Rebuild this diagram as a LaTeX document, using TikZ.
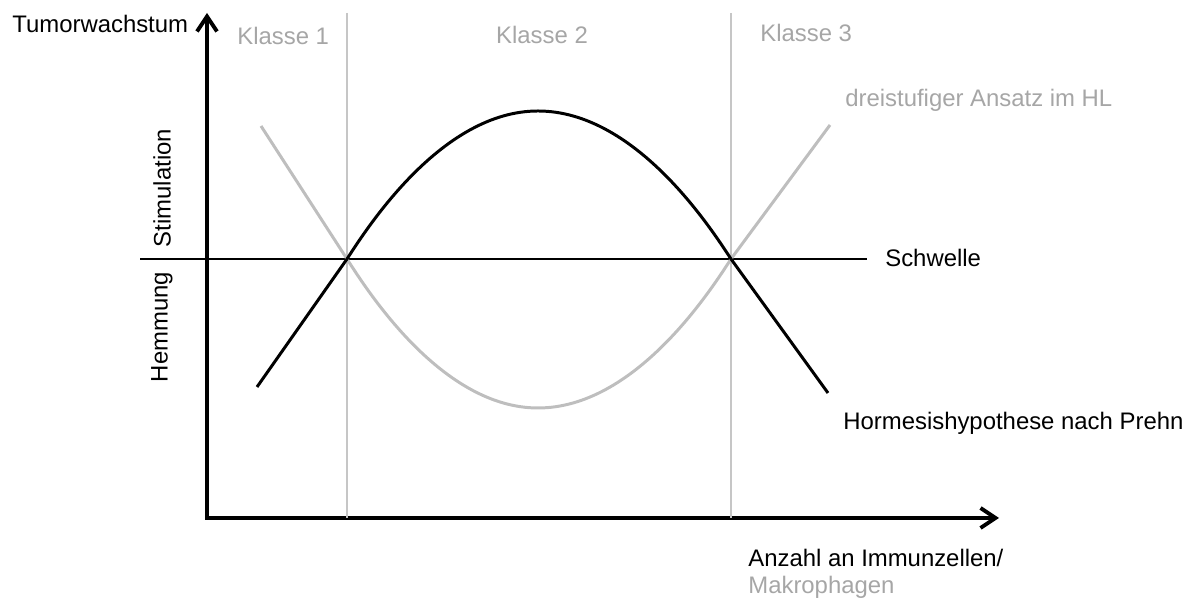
\documentclass[tikz,border=0pt]{standalone}
\usepackage{fontspec}
\setmainfont{Liberation Sans}
\usetikzlibrary{arrows.meta}
\definecolor{txtgray}{HTML}{A6A6A6}
\definecolor{curvegray}{HTML}{BEBEBE}
\definecolor{linegray}{HTML}{C6C6C6}
\begin{document}
\begin{tikzpicture}[
    axis/.style={line width=2.2pt, line join=miter, {Straight Barb[length=3mm, width=4mm, line width=2.2pt]}-{Straight Barb[length=3mm, width=4mm, line width=2.2pt]}},
    border/.style={line width=0.9pt, color=linegray},
    schwelle/.style={line width=0.9pt, color=black},
    hormesis/.style={line width=1.7pt, color=black, line join=round},
    stufen/.style={line width=1.7pt, color=curvegray, line join=round},
    lbl/.style={font=\fontsize{13.6}{16}\selectfont, inner sep=0pt, anchor=west},
    glbl/.style={lbl, text=txtgray}
]
\useasboundingbox (0,0) rectangle (23.8,11.96);

% Axes
\coordinate (o) at (4.14, 1.60);
\coordinate (ytop) at (4.14, 11.70);
\coordinate (xend) at (19.98, 1.60);
\draw[axis] (ytop) -- (o) -- (xend);

% Class borders
\coordinate (k1top) at (6.94, 11.70);
\coordinate (k1bot) at (6.94, 1.60);
\coordinate (k2top) at (14.62, 11.70);
\coordinate (k2bot) at (14.62, 1.60);
\draw[border] (k1top) -- (k1bot);
\draw[border] (k2top) -- (k2bot);

% Threshold
\coordinate (sl) at (2.80, 6.78);
\coordinate (sr) at (17.34, 6.78);
\draw[schwelle] (sl) -- (sr);

% Crossing points
\coordinate (c1) at (6.94, 6.78);
\coordinate (c2) at (14.62, 6.78);

% Three-step curve (gray)
\coordinate (g1) at (5.22, 9.44);
\coordinate (gmin) at (10.76, 3.80);
\coordinate (g2) at (16.60, 9.46);
\draw[stufen] (g1) -- (c1) parabola bend (gmin) (c2) -- (g2);

% Hormesis curve (black)
\coordinate (h1) at (5.14, 4.22);
\coordinate (hmax) at (10.76, 9.74);
\coordinate (h2) at (16.56, 4.10);
\draw[hormesis] (h1) -- (c1) parabola bend (hmax) (c2) -- (h2);

% Labels
\node[lbl] (ylabel) at (0.24, 11.48) {Tumorwachstum};
\node[glbl] (klasse1) at (4.74, 11.24) {Klasse 1};
\node[glbl, anchor=center] (klasse2) at (10.84, 11.26) {Klasse 2};
\node[glbl] (klasse3) at (15.20, 11.30) {Klasse 3};
\node[glbl] (stufenlbl) at (16.90, 9.96) {dreistufiger Ansatz im HL};
\node[lbl] (schwellelbl) at (17.70, 6.80) {Schwelle};
\node[lbl] (hormesislbl) at (16.86, 3.50) {Hormesishypothese nach Prehn};
\node[lbl, rotate=90, anchor=center] (stim) at (3.24, 8.20) {Stimulation};
\node[lbl, rotate=90, anchor=center] (hemm) at (3.24, 5.42) {Hemmung};
\node[lbl] (xlabel) at (14.96, 0.80) {Anzahl an Immunzellen/};
\node[glbl] (xlabel2) at (14.96, 0.22) {Makrophagen};

\end{tikzpicture}
\end{document}
